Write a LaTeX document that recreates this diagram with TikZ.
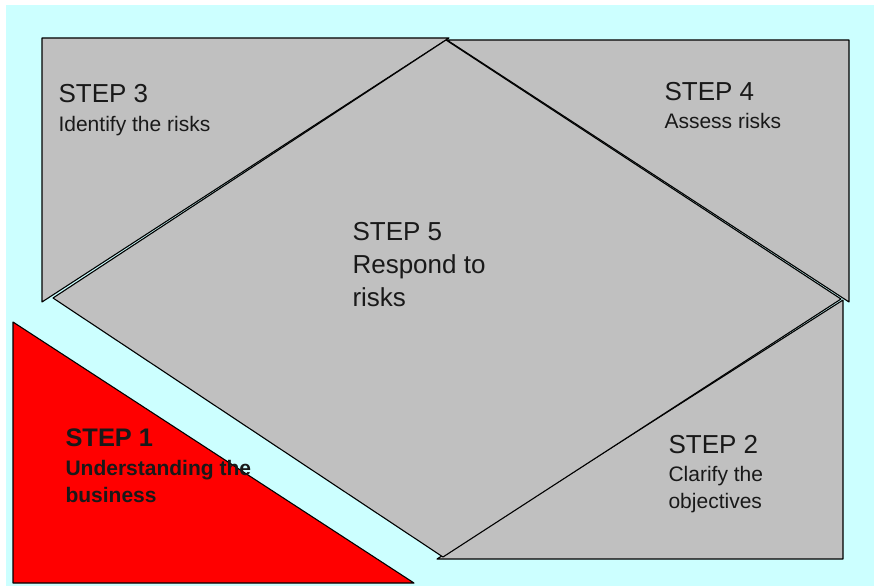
\documentclass[tikz,border=0pt]{standalone}
\usepackage{fontspec}
\setmainfont{Liberation Sans}
\definecolor{paleCyan}{HTML}{CCFFFF}
\definecolor{stepGray}{HTML}{C0C0C0}
\definecolor{stepRed}{HTML}{FF0000}
\begin{document}
\begin{tikzpicture}[x=1pt,y=-1pt,line join=round,line width=1.1pt]
	\tikzset{piece/.style={fill=stepGray,draw=black},
		label/.style={anchor=base west,inner sep=0pt,align=left,text=black!90},
		big/.style={font=\fontsize{26}{33}\selectfont},
		small/.style={font=\fontsize{21}{27}\selectfont}}
	\useasboundingbox (0,0) rectangle (874,586);
	\fill[paleCyan] (6,5) rectangle (874,586);
	% the three corner pieces
	\draw[piece] (42,38)--(449,38)--(42,302)--cycle;
	\draw[piece] (447,40)--(849,40)--(849,302)--cycle;
	\draw[piece] (437,559)--(843,559)--(843,300)--cycle;
	% the centre
	\draw[piece] (446,40)--(841,299)--(443,557)--(53,298)--cycle;
	% step 1
	\draw[fill=stepRed,draw=black] (13,322)--(414,583)--(13,583)--cycle;
	% multi-line labels sit on their last baseline
	\path
	(58,102.7) node[label,big] (s3) {STEP 3}
	(58,131) node[label,small] (s3t) {Identify the risks}
	(664,100.7) node[label,big] (s4) {STEP 4}
	(664,128) node[label,small] (s4t) {Assess risks}
	(352,306.7) node[label,big] (s5) {STEP 5\\Respond to\\risks}
	(668,453) node[label,big] (s2) {STEP 2}
	(668,508.3) node[label,small] (s2t) {Clarify the\\objectives}
	(65,446) node[label,big,font=\bfseries\fontsize{25.4}{33}\selectfont] (s1) {STEP 1}
	(65,502.7) node[label,small,font=\bfseries\fontsize{21}{27.7}\selectfont] (s1t) {Understanding the\\business}
	;
\end{tikzpicture}
\end{document}
